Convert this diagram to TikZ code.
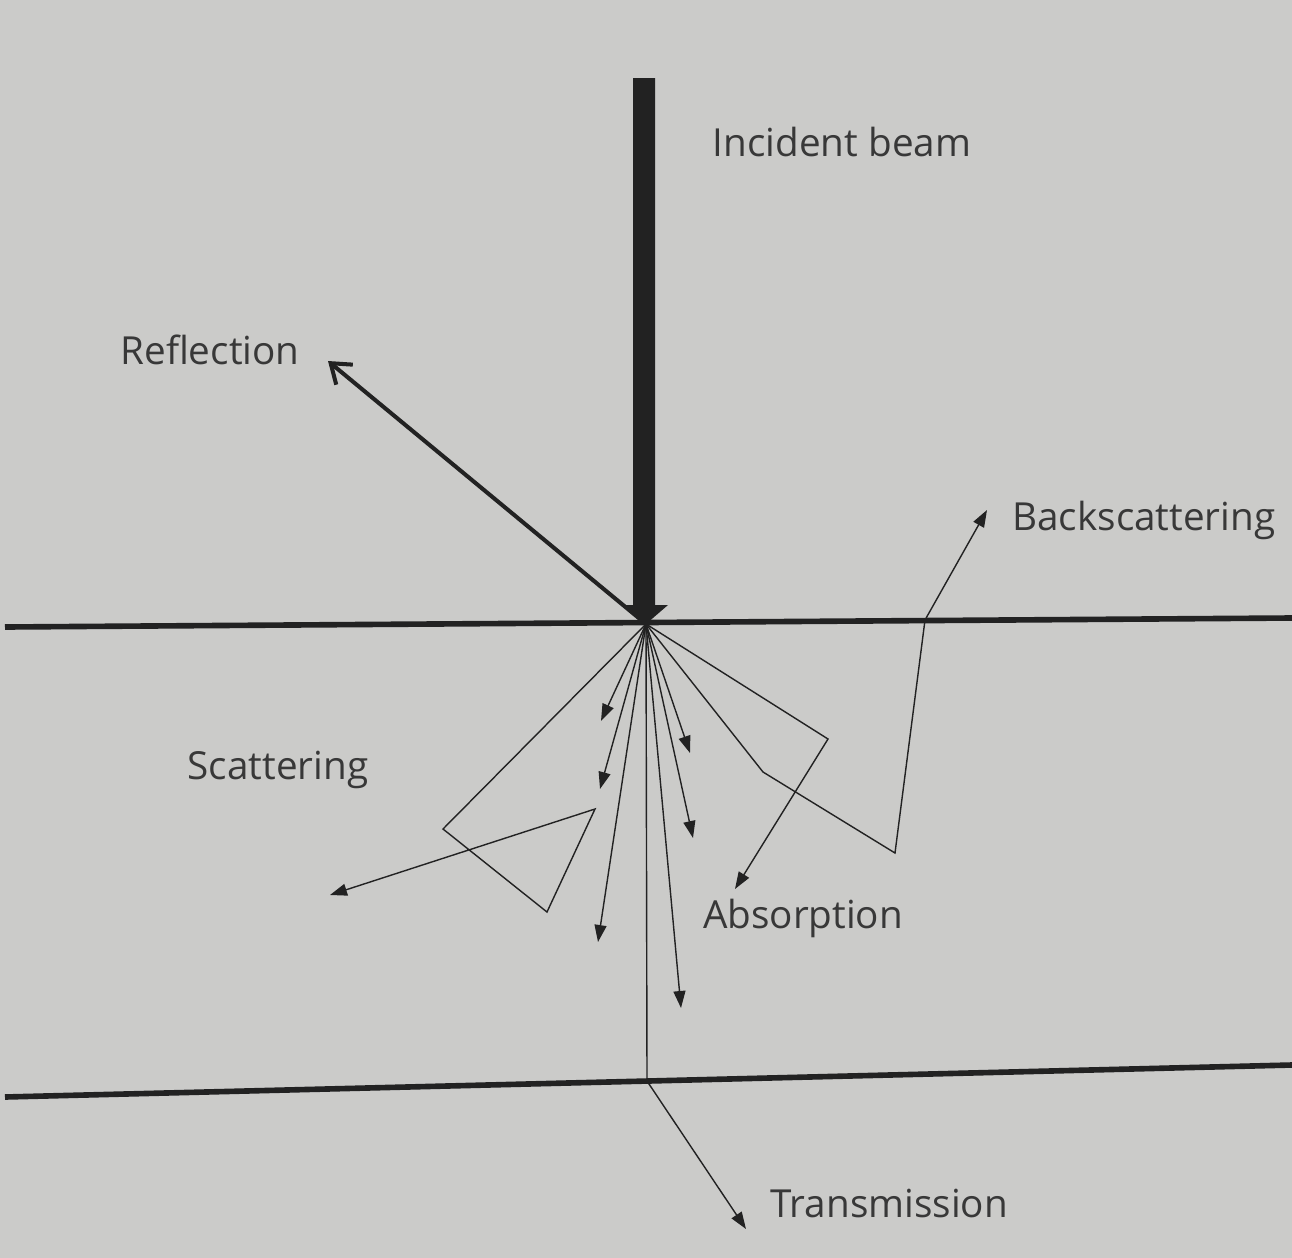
\documentclass[tikz,border=0pt]{standalone}
\usepackage{fontspec}
\setmainfont{Open Sans}
\usepackage{tikz}
\usetikzlibrary{arrows.meta, positioning}
\definecolor{PaperGrey}{RGB}{203,203,201}
\definecolor{InkDark}{RGB}{34,34,34}
\definecolor{TextGrey}{RGB}{56,56,56}

\begin{document}
\begin{tikzpicture}[x=0.02cm, y=-0.02cm, >={Triangle[length=0.34cm,width=0.24cm]}]
  \tikzstyle{ray} = [draw=InkDark, line width=0.8pt, line join=miter]
  \tikzstyle{surface} = [draw=InkDark, line width=3.2pt]
  \tikzstyle{lbl} = [font=\fontsize{22}{26}\selectfont, text=TextGrey, inner sep=0pt]

  % Paper
  \fill[PaperGrey] (0,0) rectangle (1292,1258);
  \useasboundingbox (0,0) rectangle (1292,1258);

  % Surfaces of the sample
  \coordinate (topL) at (5,627);
  \coordinate (topR) at (1292,618);
  \coordinate (botL) at (5,1097);
  \coordinate (botR) at (1292,1065);
  \draw[surface] (topL) -- (topR);
  \draw[surface] (botL) -- (botR);

  % Point of impact
  \coordinate (O) at (646,624);

  % Incident beam
  \fill[InkDark] (633,78) -- (655,78) -- (655,605) -- (668,605) -- (O)
    -- (624,605) -- (633,605) -- cycle;
  \node[lbl] (incident) at (842,142) {Incident beam};

  % Reflection
  \coordinate (refl) at (328,361);
  \draw[draw=InkDark, line width=2.3pt, -{Straight Barb[length=0.36cm,width=0.52cm]}] (O) -- (refl);
  \node[lbl] (reflection) at (210,350) {Reflection};

  % Straight rays into the sample
  \foreach \name/\x/\y in {a1/601/721, a2/600/789, a3/598/942,
                           a4/690/753, a5/693/838, a6/681/1008}
    \coordinate (\name) at (\x,\y);
  \foreach \name in {a1,a2,a3,a4,a5,a6}
    \draw[ray, ->] (O) -- (\name);

  % Scattering
  \coordinate (s1) at (443,829);
  \coordinate (s2) at (547,912);
  \coordinate (s3) at (595,809);
  \coordinate (s4) at (330,895);
  \draw[ray, ->] (O) -- (s1) -- (s2) -- (s3) -- (s4);
  \node[lbl] (scattering) at (278,770) {Scattering};

  % Absorption
  \coordinate (b1) at (828,739);
  \coordinate (b2) at (735,889);
  \draw[ray, ->] (O) -- (b1) -- (b2);
  \node[lbl] (absorption) at (803,918) {Absorption};

  % Backscattering
  \coordinate (k1) at (763,772);
  \coordinate (k2) at (895,853);
  \coordinate (k3) at (925,620);
  \coordinate (k4) at (987,510);
  \draw[ray, ->] (O) -- (k1) -- (k2) -- (k3) -- (k4);
  \node[lbl, anchor=west] (backscatter) at (1012,520) {Backscattering};

  % Transmission
  \coordinate (t1) at (647,1081);
  \coordinate (t2) at (746,1229);
  \draw[ray, ->] (O) -- (t1) -- (t2);
  \node[lbl, anchor=west] (transmission) at (770,1203) {Transmission};
\end{tikzpicture}
\end{document}
